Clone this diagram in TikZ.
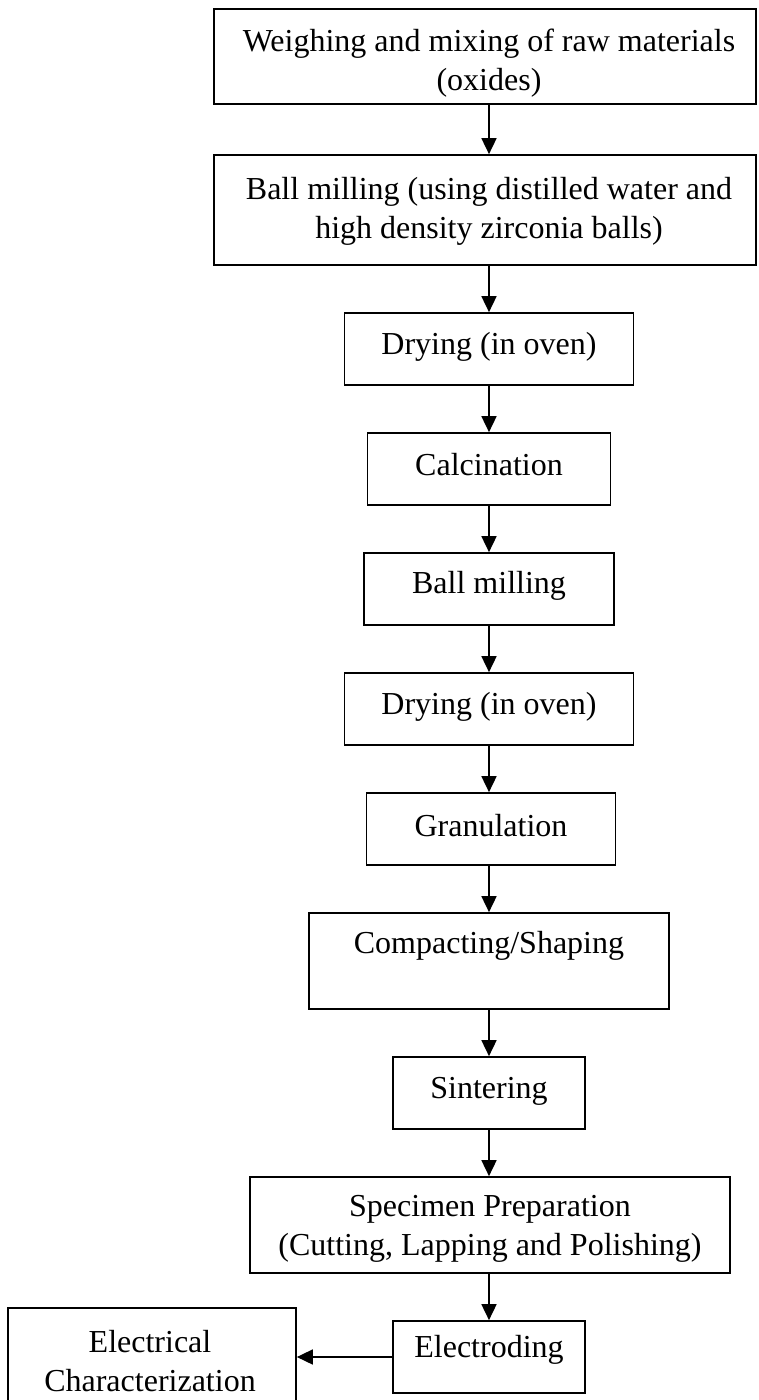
\documentclass[tikz,border=0pt]{standalone}
\usepackage{fontspec}
\setmainfont{Liberation Serif}
\usetikzlibrary{arrows.meta,calc}
\begin{document}
\begin{tikzpicture}[x=1pt,y=-1pt,
  stepbox/.style={draw, line width=1.7pt, inner sep=0pt},
  txt/.style={font=\fontsize{32}{39}\selectfont, align=center, inner sep=0pt},
  flow/.style={-{Triangle[length=16pt,width=15pt]}, line width=1.7pt}]
\useasboundingbox (0,0) rectangle (758,1400);
% boxes (centre x, centre y, width, height)
\node[stepbox, minimum width=542pt, minimum height=95pt] (b1) at (485,56.5) {};
\node[stepbox, minimum width=542pt, minimum height=110pt] (b2) at (485,210) {};
\node[stepbox, minimum width=289pt, minimum height=72pt] (b3) at (489,349) {};
\node[stepbox, minimum width=243pt, minimum height=72pt] (b4) at (489,469) {};
\node[stepbox, minimum width=250pt, minimum height=72pt] (b5) at (489,589) {};
\node[stepbox, minimum width=289pt, minimum height=72pt] (b6) at (489,709) {};
\node[stepbox, minimum width=249pt, minimum height=72pt] (b7) at (491,829) {};
\node[stepbox, minimum width=360pt, minimum height=96pt] (b8) at (489,961) {};
\node[stepbox, minimum width=192pt, minimum height=72pt] (b9) at (489,1093) {};
\node[stepbox, minimum width=480pt, minimum height=96pt] (b10) at (490,1225) {};
\node[stepbox, minimum width=192pt, minimum height=72pt] (b11) at (489,1357) {};
\node[stepbox, minimum width=288pt, minimum height=96pt] (b12) at (152,1356) {};
% texts
\node[txt] (t1) at (489,63) {Weighing and mixing of raw materials\\(oxides)};
\node[txt] (t2) at (489,211) {Ball milling (using distilled water and\\high density zirconia balls)};
\node[txt] (t3) at (489,347) {Drying (in oven)};
\node[txt] (t4) at (489,465) {Calcination};
\node[txt] (t5) at (489,586) {Ball milling};
\node[txt] (t6) at (489,707) {Drying (in oven)};
\node[txt] (t7) at (491,826) {Granulation};
\node[txt] (t8) at (489,946) {Compacting/Shaping};
\node[txt] (t9) at (489,1091) {Sintering};
\node[txt] (t10) at (490,1229) {Specimen Preparation\\(Cutting, Lapping and Polishing)};
\node[txt] (t11) at (489,1350) {Electroding};
\node[txt] (t12) at (150,1361) {Electrical\\Characterization};
% connectors
\draw[flow] (b1.south -| b3.north) -- (b2.north -| b3.north);
\draw[flow] (b2.south -| b3.north) -- (b3.north);
\draw[flow] (b3.south) -- (b4.north);
\draw[flow] (b4.south) -- (b5.north);
\draw[flow] (b5.south) -- (b6.north);
\draw[flow] (b6.south) -- (b7.north -| b6.south);
\draw[flow] (b7.south -| b8.north) -- (b8.north);
\draw[flow] (b8.south) -- (b9.north);
\draw[flow] (b9.south) -- (b10.north -| b9.south);
\draw[flow] (b10.south -| b11.north) -- (b11.north);
\draw[flow] (b11.west) -- (b11.west -| b12.east);
\end{tikzpicture}
\end{document}
